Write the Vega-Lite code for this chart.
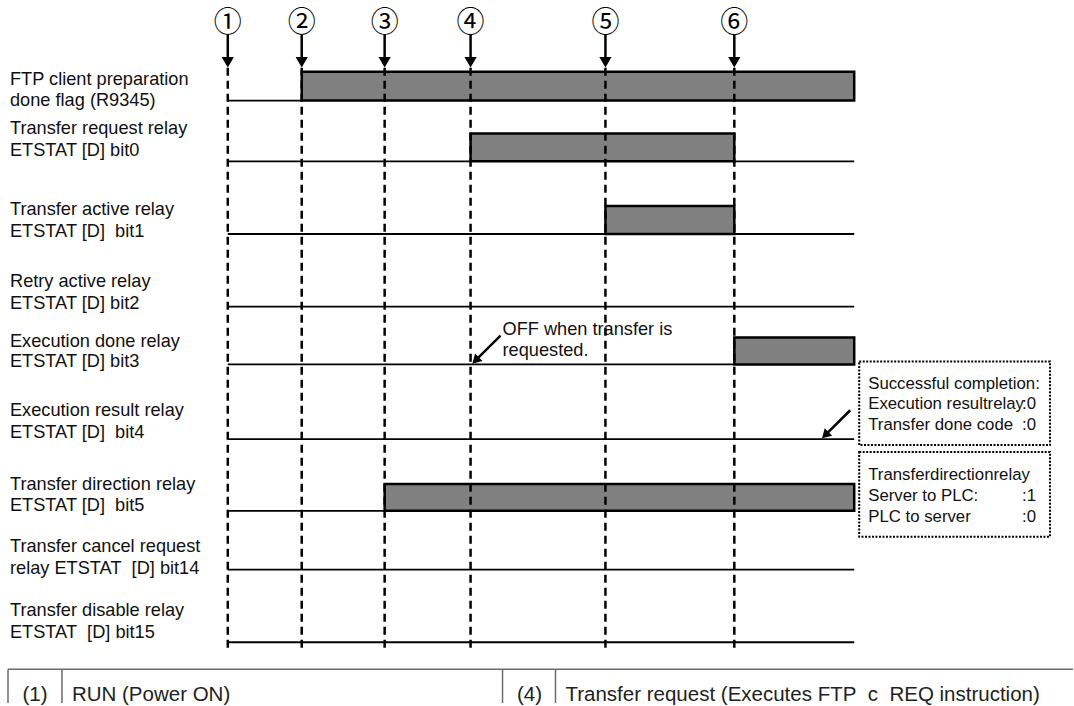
{
  "$schema": "https://vega.github.io/schema/vega-lite/v6.json",
  "width": 1074,
  "height": 706,
  "autosize": {"type": "fit", "contains": "padding"},
  "padding": 0,
  "background": "white",
  "config": {"view": {"stroke": null}},
  "datasets": {
    "highs": [
      {"signal": "FTP client preparation done flag", "x": 302, "x2": 855, "y": 72, "y2": 101},
      {"signal": "Transfer request relay", "x": 471, "x2": 735, "y": 134, "y2": 162},
      {"signal": "Transfer active relay", "x": 606, "x2": 735, "y": 207, "y2": 235},
      {"signal": "Execution done relay", "x": 735, "x2": 855, "y": 339, "y2": 366},
      {"signal": "Transfer direction relay", "x": 385, "x2": 855, "y": 486, "y2": 513}
    ],
    "lows": [
      {"signal": "FTP client preparation done flag", "x": 228, "x2": 302, "y": 101},
      {"signal": "Transfer request relay", "x": 228, "x2": 471, "y": 162},
      {"signal": "Transfer request relay", "x": 735, "x2": 855, "y": 162},
      {"signal": "Transfer active relay", "x": 228, "x2": 606, "y": 235},
      {"signal": "Transfer active relay", "x": 735, "x2": 855, "y": 235},
      {"signal": "Retry active relay", "x": 228, "x2": 855, "y": 308},
      {"signal": "Execution done relay", "x": 228, "x2": 735, "y": 366},
      {"signal": "Execution result relay", "x": 228, "x2": 855, "y": 441},
      {"signal": "Transfer direction relay", "x": 228, "x2": 385, "y": 513},
      {"signal": "Transfer cancel request relay", "x": 228, "x2": 855, "y": 572},
      {"signal": "Transfer disable relay", "x": 228, "x2": 855, "y": 645}
    ],
    "events": [
      {"x": 228, "label": "①"},
      {"x": 302, "label": "②"},
      {"x": 385, "label": "③"},
      {"x": 471, "label": "④"},
      {"x": 606, "label": "⑤"},
      {"x": 735, "label": "⑥"}
    ],
    "names": [
      {"x": 10, "y": 80, "text": "FTP client preparation"},
      {"x": 10, "y": 101, "text": "done flag (R9345)"},
      {"x": 10, "y": 130, "text": "Transfer request relay"},
      {"x": 10, "y": 152, "text": "ETSTAT [D] bit0"},
      {"x": 10, "y": 211, "text": "Transfer active relay"},
      {"x": 10, "y": 233, "text": "ETSTAT [D]\u00a0\u00a0bit1"},
      {"x": 10, "y": 283, "text": "Retry active relay"},
      {"x": 10, "y": 305, "text": "ETSTAT [D] bit2"},
      {"x": 10, "y": 343, "text": "Execution done relay"},
      {"x": 10, "y": 364, "text": "ETSTAT [D] bit3"},
      {"x": 10, "y": 413, "text": "Execution result relay"},
      {"x": 10, "y": 435, "text": "ETSTAT [D]\u00a0\u00a0bit4"},
      {"x": 10, "y": 487, "text": "Transfer direction relay"},
      {"x": 10, "y": 508, "text": "ETSTAT [D]\u00a0\u00a0bit5"},
      {"x": 10, "y": 549, "text": "Transfer cancel request"},
      {"x": 10, "y": 571, "text": "relay ETSTAT\u00a0\u00a0[D] bit14"},
      {"x": 10, "y": 614, "text": "Transfer disable relay"},
      {"x": 10, "y": 636, "text": "ETSTAT\u00a0\u00a0[D] bit15"},
      {"x": 503, "y": 331, "text": "OFF when transfer is"},
      {"x": 503, "y": 352, "text": "requested."}
    ],
    "noteText": [
      {"x": 869, "y": 386, "text": "Successful completion:"},
      {"x": 869, "y": 406, "text": "Execution resultrelay"},
      {"x": 1023, "y": 406, "text": ":0"},
      {"x": 869, "y": 427, "text": "Transfer done code"},
      {"x": 1023, "y": 427, "text": ":0"},
      {"x": 869, "y": 477, "text": "Transferdirectionrelay"},
      {"x": 869, "y": 498, "text": "Server to PLC:"},
      {"x": 1023, "y": 498, "text": ":1"},
      {"x": 869, "y": 519, "text": "PLC to server"},
      {"x": 1023, "y": 519, "text": ":0"}
    ],
    "pointers": [
      {"x": 501, "y": 337, "x2": 477, "y2": 361, "hx": 476, "hy": 362},
      {"x": 851, "y": 412, "x2": 827, "y2": 436, "hx": 826, "hy": 437}
    ],
    "notes": [
      {"x": 860, "x2": 1051, "y": 363, "y2": 447},
      {"x": 860, "x2": 1051, "y": 454, "y2": 539}
    ],
    "tableLines": [
      {"x": 8, "x2": 1074, "y": 672, "y2": 672},
      {"x": 8, "x2": 8, "y": 672, "y2": 706},
      {"x": 62, "x2": 62, "y": 672, "y2": 706},
      {"x": 503, "x2": 503, "y": 672, "y2": 706},
      {"x": 556, "x2": 556, "y": 672, "y2": 706}
    ],
    "tableNums": [
      {"x": 35, "y": 704, "text": "(1)"},
      {"x": 530, "y": 704, "text": "(4)"}
    ],
    "tableText": [
      {"x": 72, "y": 704, "text": "RUN (Power ON)"},
      {"x": 566, "y": 704, "text": "Transfer request (Executes FTP\u00a0\u00a0c\u00a0\u00a0REQ instruction)"}
    ]
  },
  "layer": [
    {
      "data": {"name": "highs"},
      "mark": {"type": "rect", "fill": "#808080", "stroke": "#000000", "strokeWidth": 2.5},
      "encoding": {
        "x": {"field": "x", "type": "quantitative", "scale": {"domain": [0, 1074], "nice": false, "zero": false}, "axis": null},
        "x2": {"field": "x2"},
        "y": {"field": "y", "type": "quantitative", "scale": {"domain": [0, 706], "nice": false, "zero": false, "reverse": true}, "axis": null},
        "y2": {"field": "y2"}
      }
    },
    {
      "data": {"name": "lows"},
      "mark": {"type": "rule", "stroke": "#000000", "strokeWidth": 1.8},
      "encoding": {
        "x": {"field": "x", "type": "quantitative"},
        "x2": {"field": "x2"},
        "y": {"field": "y", "type": "quantitative"}
      }
    },
    {
      "data": {"name": "events"},
      "mark": {"type": "rule", "stroke": "#000000", "strokeWidth": 2.5, "strokeDash": [8, 5]},
      "encoding": {
        "x": {"field": "x", "type": "quantitative"},
        "y": {"datum": 68, "type": "quantitative"},
        "y2": {"datum": 655}
      }
    },
    {
      "data": {"name": "events"},
      "mark": {"type": "rule", "stroke": "#000000", "strokeWidth": 2.5},
      "encoding": {
        "x": {"field": "x", "type": "quantitative"},
        "y": {"datum": 35, "type": "quantitative"},
        "y2": {"datum": 60}
      }
    },
    {
      "data": {"name": "events"},
      "mark": {"type": "point", "shape": "triangle-down", "filled": true, "fill": "#000000", "opacity": 1, "size": 150, "strokeWidth": 0},
      "encoding": {
        "x": {"field": "x", "type": "quantitative"},
        "y": {"datum": 62.5, "type": "quantitative"}
      }
    },
    {
      "data": {"name": "events"},
      "mark": {"type": "text", "font": "Noto Sans CJK JP", "fontSize": 28, "align": "center", "baseline": "middle", "color": "#000000"},
      "encoding": {
        "x": {"field": "x", "type": "quantitative"},
        "y": {"datum": 24, "type": "quantitative"},
        "text": {"field": "label"}
      }
    },
    {
      "data": {"name": "names"},
      "mark": {"type": "text", "font": "Liberation Sans", "fontSize": 18.2, "align": "left", "baseline": "middle", "color": "#111111"},
      "encoding": {
        "x": {"field": "x", "type": "quantitative"},
        "y": {"field": "y", "type": "quantitative"},
        "text": {"field": "text"}
      }
    },
    {
      "data": {"name": "noteText"},
      "mark": {"type": "text", "font": "Liberation Sans", "fontSize": 16.8, "align": "left", "baseline": "middle", "color": "#111111"},
      "encoding": {
        "x": {"field": "x", "type": "quantitative"},
        "y": {"field": "y", "type": "quantitative"},
        "text": {"field": "text"}
      }
    },
    {
      "data": {"name": "pointers"},
      "mark": {"type": "rule", "stroke": "#000000", "strokeWidth": 2.5},
      "encoding": {
        "x": {"field": "x", "type": "quantitative"},
        "x2": {"field": "x2"},
        "y": {"field": "y", "type": "quantitative"},
        "y2": {"field": "y2"}
      }
    },
    {
      "data": {"name": "pointers"},
      "mark": {"type": "point", "shape": "triangle-up", "angle": 225, "filled": true, "fill": "#000000", "opacity": 1, "size": 110, "strokeWidth": 0},
      "encoding": {
        "x": {"field": "hx", "type": "quantitative"},
        "y": {"field": "hy", "type": "quantitative"}
      }
    },
    {
      "data": {"name": "notes"},
      "mark": {"type": "rect", "fill": null, "fillOpacity": 0, "stroke": "#000000", "strokeWidth": 2, "strokeDash": [2, 1.5]},
      "encoding": {
        "x": {"field": "x", "type": "quantitative"},
        "x2": {"field": "x2"},
        "y": {"field": "y", "type": "quantitative"},
        "y2": {"field": "y2"}
      }
    },
    {
      "data": {"name": "tableLines"},
      "mark": {"type": "rule", "stroke": "#6b6b6b", "strokeWidth": 1.5},
      "encoding": {
        "x": {"field": "x", "type": "quantitative"},
        "x2": {"field": "x2"},
        "y": {"field": "y", "type": "quantitative"},
        "y2": {"field": "y2"}
      }
    },
    {
      "data": {"name": "tableNums"},
      "mark": {"type": "text", "font": "Liberation Sans", "fontSize": 20.5, "align": "center", "baseline": "alphabetic", "color": "#222222"},
      "encoding": {
        "x": {"field": "x", "type": "quantitative"},
        "y": {"field": "y", "type": "quantitative"},
        "text": {"field": "text"}
      }
    },
    {
      "data": {"name": "tableText"},
      "mark": {"type": "text", "font": "Liberation Sans", "fontSize": 20.5, "align": "left", "baseline": "alphabetic", "color": "#222222"},
      "encoding": {
        "x": {"field": "x", "type": "quantitative"},
        "y": {"field": "y", "type": "quantitative"},
        "text": {"field": "text"}
      }
    }
  ]
}
